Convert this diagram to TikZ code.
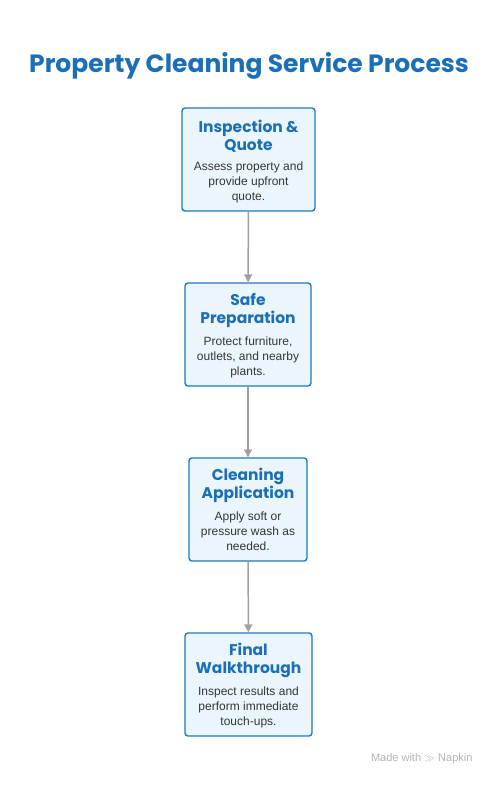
\documentclass[tikz,border=0pt]{standalone}
\usepackage{fontspec}
\setmainfont{Liberation Sans}
\newfontfamily\headfont{Poppins}
\usetikzlibrary{arrows.meta}

\definecolor{napblue}{HTML}{1B6FB6}
\definecolor{boxline}{HTML}{1F78BE}
\definecolor{boxfill}{HTML}{EAF5FC}
\definecolor{bodytext}{HTML}{363636}
\definecolor{flowgray}{HTML}{A0A0A0}
\definecolor{markgray}{HTML}{B4B4B4}

\tikzset{
  stepbox/.style={draw=boxline, fill=boxfill, line width=1.4pt, rounded corners=3pt,
    inner sep=0pt, minimum height=103pt},
  headtext/.style={align=center, inner sep=0pt, text=napblue,
    font=\headfont\bfseries\fontsize{15.5}{18}\selectfont, anchor=south},
  bodytext/.style={align=center, inner sep=0pt, text=bodytext,
    font=\fontsize{12}{15}\selectfont, anchor=north},
  flow/.style={-{Triangle[length=8pt,width=8pt]}, draw=flowgray, line width=1.5pt},
}

\begin{document}
\begin{tikzpicture}[x=1pt,y=-1pt]
    \useasboundingbox (0,0) rectangle (498,785);

    % title
    \node[text=napblue, font=\headfont\bfseries\fontsize{25}{30}\selectfont] (title) at (249,66) {Property Cleaning Service Process};

    % inspection
    \node[stepbox, minimum width=133pt] (inspect) at (248.5,159.5) {};
    \node[headtext] (inspecthead) at ([yshift=6.5pt]inspect.center) {Inspection \&\\Quote};
    \node[bodytext] (inspectbody) at ([yshift=-2pt]inspect.center) {Assess property and\\provide upfront\\quote.};

    % preparation
    \node[stepbox, minimum width=126pt] (prep) at (248,334.5) {};
    \node[headtext] (prephead) at ([yshift=6.5pt]prep.center) {Safe\\Preparation};
    \node[bodytext] (prepbody) at ([yshift=-2pt]prep.center) {Protect furniture,\\outlets, and nearby\\plants.};

    % cleaning
    \node[stepbox, minimum width=118pt] (clean) at (248,509.5) {};
    \node[headtext] (cleanhead) at ([yshift=6.5pt]clean.center) {Cleaning\\Application};
    \node[bodytext] (cleanbody) at ([yshift=-2pt]clean.center) {Apply soft or\\pressure wash as\\needed.};

    % walkthrough
    \node[stepbox, minimum width=127pt] (final) at (248.5,684.5) {};
    \node[headtext] (finalhead) at ([yshift=6.5pt]final.center) {Final\\Walkthrough};
    \node[bodytext] (finalbody) at ([yshift=-2pt]final.center) {Inspect results and\\perform immediate\\touch-ups.};

    % arrows
    \draw[flow] (inspect) -- (prep);
    \draw[flow] (prep) -- (clean);
    \draw[flow] (clean) -- (final);

    % watermark
    \node[anchor=east, text=markgray, font=\fontsize{11}{13}\selectfont] (mark) at (476,759) {Made with $\gg$ Napkin};
\end{tikzpicture}
\end{document}
